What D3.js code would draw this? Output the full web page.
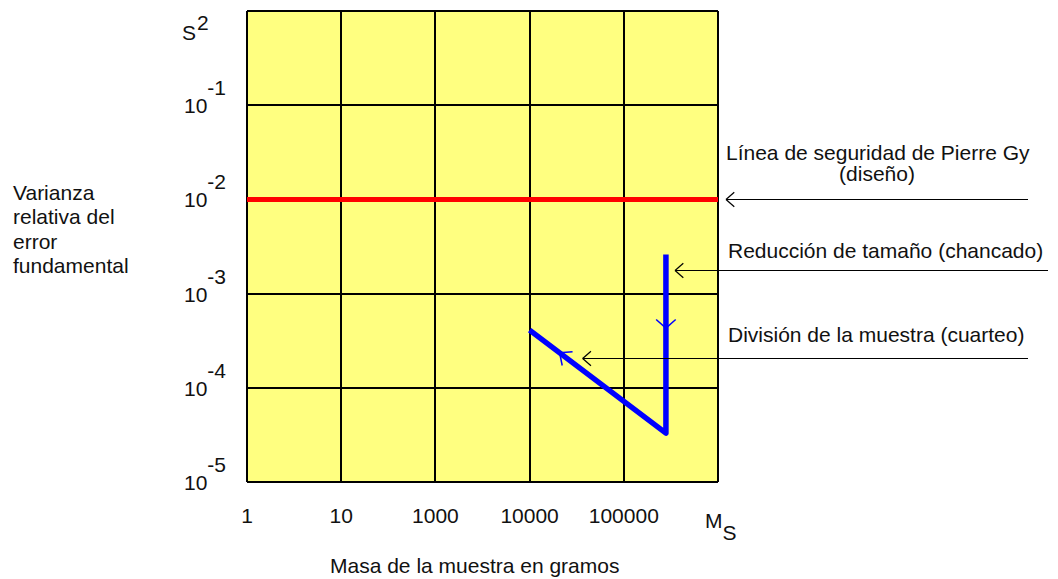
<!DOCTYPE html>
<html>
<head>
<meta charset="utf-8">
<script src="https://cdn.jsdelivr.net/npm/d3@7"></script>
<style>
  body { margin: 0; background: #fff; }
  svg text { font-family: "Liberation Sans", Arial, sans-serif; font-size: 21px; fill: #111; }
</style>
</head>
<body>
<svg id="chart" width="1058" height="579"></svg>
<script>
// values
var xGridValues = [1, 10, 1000, 10000, 100000, 1000000];   // labels as printed (no 100)
var xTickLabels = ["1", "10", "1000", "10000", "100000"];
var yExponents = [-1, -2, -3, -4, -5];
var safetyLevel = 1e-2;                                     // Pierre Gy safety line
var pathMass = [10000, 280000, 280000];                     // blue path, grams
var pathVariance = [4.1e-4, 3.3e-5, 2.6e-3];
var noteLabels = ["Reducción de tamaño (chancado)", "División de la muestra (cuarteo)"];
var noteTipMass = [350000, 36600];
var noteTipVariance = [1.8e-3, 2.07e-4];

var svg = d3.select("#chart");
var plotL = 247, plotR = 718, plotT = 11, plotB = 482;
var colW = (plotR - plotL) / 5;

var x = d3.scaleLog()
  .domain(xGridValues)
  .range(xGridValues.map(function (d, i) { return plotL + i * colW; }));
var y = d3.scaleLog()
  .domain([1e-5, 1])
  .range([plotB, plotT]);

// yellow plot area
svg.append("rect")
  .attr("x", plotL).attr("y", plotT)
  .attr("width", plotR - plotL).attr("height", plotB - plotT)
  .attr("fill", "#ffff80");

// grid
var grid = svg.append("g").attr("stroke", "#000").attr("stroke-width", 2).attr("shape-rendering", "crispEdges");
grid.selectAll(".vx").data(xGridValues).enter().append("line")
  .attr("x1", function (d) { return x(d); }).attr("x2", function (d) { return x(d); })
  .attr("y1", plotT).attr("y2", plotB);
grid.selectAll(".hy").data([0].concat(yExponents)).enter().append("line")
  .attr("y1", function (d) { return y(Math.pow(10, d)); }).attr("y2", function (d) { return y(Math.pow(10, d)); })
  .attr("x1", plotL).attr("x2", plotR);

// red safety line
svg.append("line")
  .attr("x1", plotL).attr("x2", plotR)
  .attr("y1", y(safetyLevel)).attr("y2", y(safetyLevel))
  .attr("stroke", "#ff0000").attr("stroke-width", 5);

// arrow helper: thin open head at (tx,ty) pointing away from (fx,fy)
function arrowHead(g, tx, ty, fx, fy, len, ang, color, w) {
  var a = Math.atan2(fy - ty, fx - tx);
  [-ang, ang].forEach(function (s) {
    g.append("line")
      .attr("x1", tx).attr("y1", ty)
      .attr("x2", tx + len * Math.cos(a + s)).attr("y2", ty + len * Math.sin(a + s))
      .attr("stroke", color).attr("stroke-width", w);
  });
}

// blue path
var pts = pathMass.map(function (m, i) { return [x(m), y(pathVariance[i])]; });
svg.append("path")
  .attr("d", d3.line()(pts))
  .attr("fill", "none").attr("stroke", "#0000ff").attr("stroke-width", 5.5)
  .attr("stroke-linejoin", "round");

// direction marks on the blue path
var blue = svg.append("g");
var dA = [pts[0][0] + (pts[1][0] - pts[0][0]) * 0.22, pts[0][1] + (pts[1][1] - pts[0][1]) * 0.22];
arrowHead(blue, dA[0], dA[1], pts[1][0], pts[1][1], 13, 0.72, "#0000ff", 1.5);
var dB = [pts[2][0], y(4.3e-4)];
arrowHead(blue, dB[0], dB[1], pts[2][0], pts[2][1], 13, 0.85, "#0000ff", 1.5);

// annotation arrows (black), drawn over the path
var notes = svg.append("g");
var tailX = [1028, 1048, 1028];
var tips = [[plotR + 8, y(safetyLevel)]].concat(noteTipMass.map(function (m, i) {
  return [x(m), y(noteTipVariance[i])];
}));
tips.forEach(function (t, i) {
  var ty = Math.round(t[1]) + 0.5;
  notes.append("line")
    .attr("x1", t[0]).attr("x2", tailX[i])
    .attr("y1", ty).attr("y2", ty)
    .attr("stroke", "#000").attr("stroke-width", 1.2);
  arrowHead(notes, t[0], ty, tailX[i], ty, 11, 0.72, "#000", 1.2);
});

// y tick labels 10^e
var yl = svg.append("g");
yExponents.forEach(function (e) {
  var t = yl.append("text").attr("x", 184).attr("y", y(Math.pow(10, e)) + 8);
  t.append("tspan").text("10");
  t.append("tspan").attr("dy", -18).text(String(e));
});
var s2 = yl.append("text").attr("x", 182).attr("y", 40);
s2.append("tspan").text("S");
s2.append("tspan").attr("dy", -10).attr("dx", 1).text("2");

// x tick labels
svg.append("g").selectAll("text").data(xTickLabels).enter().append("text")
  .attr("x", function (d, i) { return x(xGridValues[i]); })
  .attr("y", 523)
  .attr("text-anchor", "middle")
  .text(function (d) { return d; });
var ms = svg.append("text").attr("x", 705).attr("y", 528);
ms.append("tspan").text("M");
ms.append("tspan").attr("dy", 12).text("S");

// axis titles
svg.append("text").attr("x", 330).attr("y", 573).text("Masa de la muestra en gramos");
var ytitle = svg.append("text").attr("x", 13).attr("y", 200);
["Varianza", "relativa del", "error", "fundamental"].forEach(function (s, i) {
  ytitle.append("tspan").attr("x", 13).attr("dy", i ? 24.3 : 0).text(s);
});

// annotation texts
svg.append("text").attr("x", 726).attr("y", 160).text("Línea de seguridad de Pierre Gy");
svg.append("text").attr("x", 877).attr("y", 181).attr("text-anchor", "middle").text("(diseño)");
svg.append("text").attr("x", 728).attr("y", 258).text(noteLabels[0]);
svg.append("text").attr("x", 728).attr("y", 342).text(noteLabels[1]);
</script>
</body>
</html>
